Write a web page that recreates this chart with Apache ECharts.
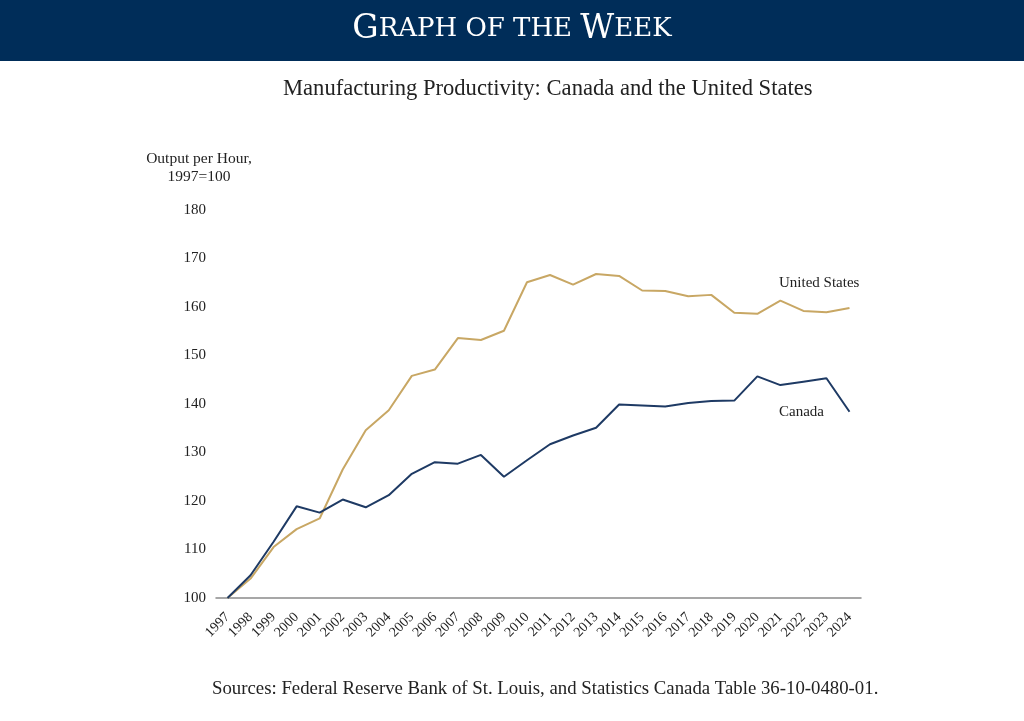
<!DOCTYPE html>
<html lang="en">
<head>
    <meta charset="UTF-8">
    <title>Manufacturing Productivity</title>
    <script src="https://cdn.jsdelivr.net/npm/echarts@6/dist/echarts.min.js"></script>
    <style>
        html, body { margin: 0; padding: 0; background: #fff; }
        #chart { width: 1024px; height: 721px; }
    </style>
</head>
<body>
    <div id="chart"></div>
<script>
    // years on the x axis
    var years = ['1997', '1998', '1999', '2000', '2001', '2002', '2003', '2004', '2005', '2006',
        '2007', '2008', '2009', '2010', '2011', '2012', '2013', '2014', '2015', '2016',
        '2017', '2018', '2019', '2020', '2021', '2022', '2023', '2024'];
    // output per hour, 1997=100
    var unitedStates = [100, 104.0, 110.5, 114.2, 116.4, 126.5, 134.6, 138.7, 145.8, 147.1,
        153.6, 153.2, 155.1, 165.1, 166.6, 164.6, 166.8, 166.4, 163.4, 163.3,
        162.2, 162.5, 158.8, 158.6, 161.3, 159.2, 158.9, 159.8];
    var canada = [100, 104.7, 111.6, 118.9, 117.6, 120.3, 118.7, 121.2, 125.6, 128.0,
        127.7, 129.5, 125.0, 128.4, 131.7, 133.5, 135.1, 139.9, 139.7, 139.5,
        140.2, 140.6, 140.7, 145.7, 143.9, 144.6, 145.3, 138.4];

    var serif = '"Liberation Serif", "DejaVu Serif", serif';
    var headFont = '"DejaVu Serif", "Liberation Serif", serif';
    var chart = echarts.init(document.getElementById('chart'));

    chart.setOption({
        animation: false,
        textStyle: { fontFamily: serif },
        graphic: [{
            type: 'rect',
            left: 0, top: 0,
            shape: { width: 1024, height: 61 },
            style: { fill: '#002d59' }
        }, {
            type: 'text',
            left: 'center', top: 13,
            style: {
                text: '{b|G}{s|RAPH OF THE }{b|W}{s|EEK}',
                rich: {
                    b: { fontFamily: headFont, fontSize: 33, fill: '#fff', fontWeight: 'normal' },
                    s: { fontFamily: headFont, fontSize: 26, fill: '#fff', fontWeight: 'normal' }
                }
            }
        }, {
            type: 'text',
            left: 283, top: 78,
            style: { text: 'Manufacturing Productivity: Canada and the United States', font: '22.6px ' + serif, fill: '#222' }
        }, {
            type: 'text',
            left: 212, top: 680,
            style: { text: 'Sources: Federal Reserve Bank of St. Louis, and Statistics Canada Table 36-10-0480-01.', font: '18.8px ' + serif, fill: '#222' }
        }, {
            type: 'text',
            left: 779, top: 276,
            style: { text: 'United States', font: '15px ' + serif, fill: '#222' }
        }, {
            type: 'text',
            left: 779, top: 405,
            style: { text: 'Canada', font: '15px ' + serif, fill: '#222' }
        }],
        grid: { left: 216, right: 163, top: 210, bottom: 123 },
        xAxis: {
            type: 'category',
            data: years,
            boundaryGap: true,
            axisLine: { lineStyle: { color: '#8a8a8a', width: 1.5 } },
            axisTick: { show: false },
            axisLabel: { rotate: 45, interval: 0, color: '#222', fontSize: 14, fontFamily: serif, margin: 17 }
        },
        yAxis: {
            type: 'value',
            min: 100, max: 180, interval: 10,
            name: 'Output per Hour,\n1997=100',
            nameLocation: 'end',
            nameGap: 24,
            nameTextStyle: { color: '#222', fontSize: 15.5, fontFamily: serif, align: 'center', lineHeight: 18, padding: [0, 0, 0, -34] },
            axisLine: { show: false },
            axisTick: { show: false },
            splitLine: { show: false },
            axisLabel: { color: '#222', fontSize: 15, fontFamily: serif, margin: 10 }
        },
        series: [{
            name: 'United States',
            type: 'line',
            data: unitedStates,
            symbol: 'none',
            lineStyle: { color: '#c8a764', width: 2 }
        }, {
            name: 'Canada',
            type: 'line',
            data: canada,
            symbol: 'none',
            lineStyle: { color: '#1e3a64', width: 2 }
        }]
    });
</script>
</body>
</html>
